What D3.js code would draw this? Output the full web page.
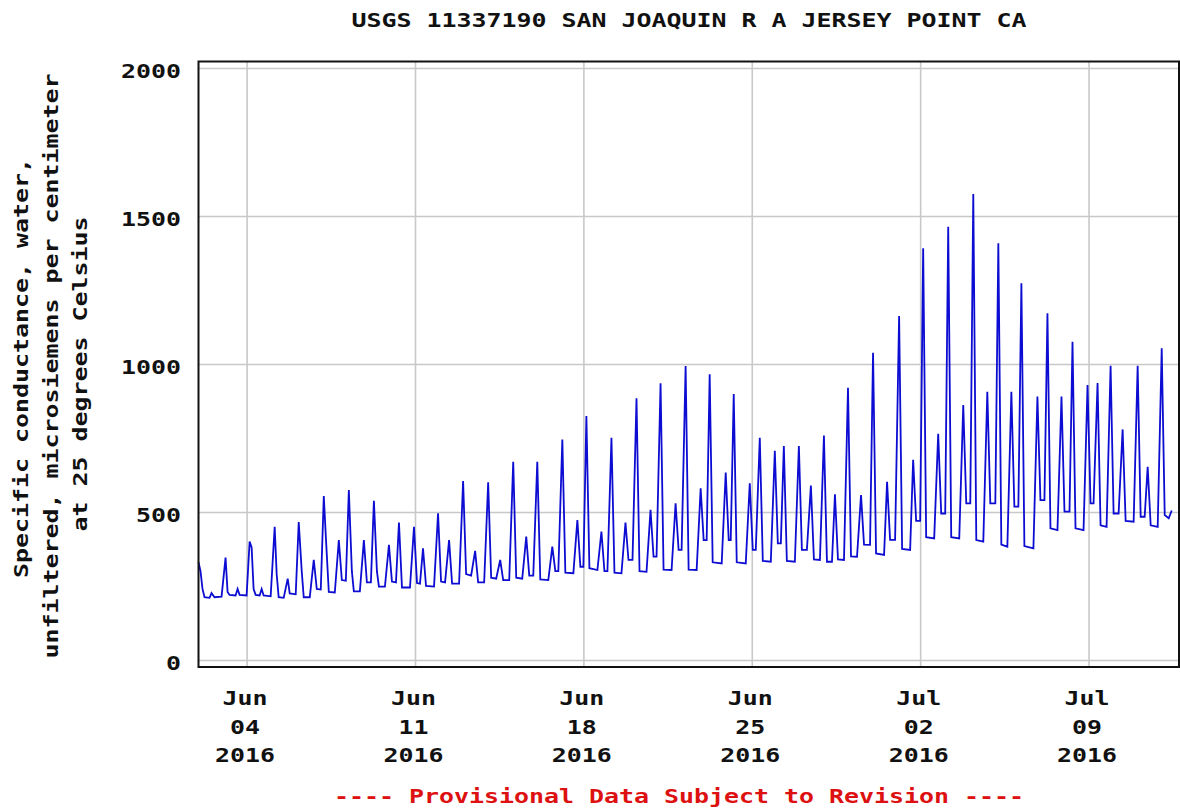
<!DOCTYPE html>
<html>
<head>
<meta charset="utf-8">
<script src="https://cdn.jsdelivr.net/npm/d3@7"></script>
<style>
  body { margin: 0; background: #fff; }
  text { font-family: "DejaVu Sans Mono", "Liberation Mono", monospace; font-weight: bold; }
</style>
</head>
<body>
<script>
// Chart text
const titleText = "USGS 11337190 SAN JOAQUIN R A JERSEY POINT CA";
const yLabelLines = [
  "Specific conductance, water,",
  "unfiltered, microsiemens per centimeter",
  "at 25 degrees Celsius",
];
const captionText = "---- Provisional Data Subject to Revision ----";

// Tick values
const yTicks = [0, 500, 1000, 1500, 2000];
const xTicks = ["2016-06-04", "2016-06-11", "2016-06-18", "2016-06-25", "2016-07-02", "2016-07-09"];

// Readings: [hours since 2016-06-02 00:00, specific conductance]
const readings = [
  [0, 330], [2, 300], [4, 240], [6, 212], [11, 210], [13, 226], [16, 212], [23, 214],
  [27, 346], [29, 230], [31, 220], [37, 218], [39, 240], [41, 220], [48, 218],
  [51, 400], [53, 380], [55, 240], [57, 220], [61, 218], [63, 240], [65, 218], [72, 215],
  [76, 450], [78, 290], [80, 212], [85, 210], [89, 275], [91, 225], [97, 222],
  [100, 466], [103, 300], [105, 212], [111, 212], [115, 338], [118, 240], [122, 238],
  [125, 554], [127, 420], [130, 230], [136, 228], [140, 405], [143, 270], [147, 268],
  [150, 574], [153, 300], [155, 232], [161, 232], [165, 405], [168, 262], [172, 262],
  [175, 538], [178, 300], [180, 248], [186, 248], [190, 389], [193, 265], [197, 262],
  [200, 464], [203, 245], [211, 245], [215, 450], [218, 260], [221, 258],
  [224, 377], [227, 250], [235, 248],
  [239, 496], [242, 265], [246, 262], [250, 405], [253, 258], [260, 258],
  [264, 605], [267, 290], [272, 285], [276, 369], [279, 262], [285, 262],
  [289, 600], [292, 278], [297, 275], [301, 338], [304, 270], [310, 270],
  [314, 670], [317, 278], [323, 275], [327, 417], [330, 285], [334, 285],
  [338, 670], [341, 272], [349, 270], [353, 383], [356, 300], [359, 300],
  [363, 745], [366, 295], [374, 293], [378, 473], [381, 315], [384, 315],
  [387, 824], [390, 310], [398, 304], [402, 434], [405, 300], [408, 300],
  [412, 751], [415, 295], [422, 293], [426, 464], [429, 338], [433, 338],
  [437, 884], [440, 300], [447, 298], [451, 507], [454, 349], [457, 349],
  [461, 935], [464, 305], [472, 304], [476, 529], [479, 372], [482, 372],
  [486, 993], [489, 305], [497, 304], [501, 580], [504, 405], [507, 405],
  [510, 965], [513, 330], [522, 326], [526, 633], [529, 405], [531, 405],
  [534, 899], [537, 330], [546, 326], [550, 597], [553, 372], [556, 372],
  [560, 751], [563, 335], [571, 332], [575, 707], [578, 394], [581, 394],
  [584, 723], [587, 335], [595, 332], [599, 723], [602, 372], [607, 372],
  [611, 589], [614, 340], [620, 338], [624, 758], [627, 332], [632, 332],
  [635, 560], [638, 340], [644, 338], [648, 920], [651, 350], [657, 349],
  [661, 557], [664, 390], [670, 389], [673, 1038], [676, 360], [684, 355],
  [687, 602], [690, 406], [695, 406], [699, 1162], [702, 375], [710, 372],
  [713, 676], [716, 470], [720, 470], [723, 1391], [726, 415], [734, 411],
  [738, 764], [741, 495], [745, 495], [748, 1464], [751, 415], [759, 411],
  [763, 861], [766, 529], [770, 529], [773, 1574], [776, 405], [783, 400],
  [787, 906], [790, 529], [795, 529], [798, 1408], [801, 390], [807, 383],
  [811, 906], [814, 518], [818, 518], [821, 1273], [824, 385], [833, 377],
  [837, 890], [840, 540], [844, 540], [847, 1171], [850, 445], [857, 439],
  [861, 890], [864, 501], [869, 501], [872, 1075], [875, 445], [883, 439],
  [887, 929], [890, 529], [893, 529], [897, 936], [900, 455], [906, 450],
  [910, 994], [913, 495], [918, 495], [922, 779], [925, 470], [933, 467],
  [937, 994], [940, 484], [944, 484], [947, 653], [950, 455], [957, 450],
  [961, 1053], [964, 490], [968, 479], [971, 505],
];

const start = new Date(2016, 5, 2, 0, 0);
const parseDay = d3.timeParse("%Y-%m-%d");
const data = readings.map(([h, v]) => ({
  date: d3.timeHour.offset(start, h),
  value: v,
}));

// Layout
const W = 1180, H = 809;
const plot = { left: 198.5, right: 1179, top: 61.5, bottom: 667 };
const charW = 15;

const svg = d3.select("body").append("svg")
  .attr("width", W)
  .attr("height", H);

// Scales
const x = d3.scaleTime()
  .domain([start, new Date(2016, 6, 12, 18, 15)])
  .range([plot.left, plot.right]);

const y = d3.scaleLinear()
  .domain([0, 2000])
  .range([660, 68]);

// Grid lines from the axes
const xGrid = svg.append("g")
  .attr("transform", `translate(0,${plot.bottom})`)
  .call(d3.axisBottom(x)
    .tickValues(xTicks.map(parseDay))
    .tickSize(-(plot.bottom - plot.top))
    .tickFormat(""));

const yGrid = svg.append("g")
  .attr("transform", `translate(${plot.left},0)`)
  .call(d3.axisLeft(y)
    .tickValues(yTicks)
    .tickSize(-(plot.right - plot.left))
    .tickFormat(""));

[xGrid, yGrid].forEach((g) => {
  g.select(".domain").remove();
  g.selectAll(".tick line").attr("stroke", "#c8c8c8").attr("stroke-width", 1.6);
});

// Data line
const line = d3.line()
  .x((d) => x(d.date))
  .y((d) => y(d.value));

svg.append("path")
  .datum(data)
  .attr("fill", "none")
  .attr("stroke", "#0c0cd2")
  .attr("stroke-width", 1.8)
  .attr("stroke-linejoin", "miter")
  .attr("d", line);

// Frame
svg.append("rect")
  .attr("x", plot.left)
  .attr("y", plot.top)
  .attr("width", plot.right - plot.left)
  .attr("height", plot.bottom - plot.top)
  .attr("fill", "none")
  .attr("stroke", "#111")
  .attr("stroke-width", 2);

// Helper for the stretched monospace text
const addText = (sel, str, attrs) => {
  const t = sel.append("text")
    .attr("font-size", 20)
    .attr("textLength", str.length * charW)
    .attr("lengthAdjust", "spacingAndGlyphs")
    .attr("fill", "#111")
    .text(str);
  Object.entries(attrs).forEach(([k, v]) => t.attr(k, v));
  return t;
};

// Title
addText(svg, titleText, { x: 689, y: 27, "text-anchor": "middle" });

// Y tick labels
yTicks.forEach((v) => {
  addText(svg, String(v), { x: 181, y: y(v) + 9.5, "text-anchor": "end" });
});

// X tick labels
const fmtMonth = d3.timeFormat("%b");
const fmtDay = d3.timeFormat("%d");
const fmtYear = d3.timeFormat("%Y");
xTicks.map(parseDay).forEach((d) => {
  const cx = x(d) - 1.5;
  [fmtMonth(d), fmtDay(d), fmtYear(d)].forEach((s, i) => {
    addText(svg, s, { x: cx, y: 705 + i * 28.5, "text-anchor": "middle" });
  });
});

// Y-axis label
const yLabelPos = [[28, 368], [58, 366], [87, 374]];
yLabelLines.forEach((s, i) => {
  const [lx, ly] = yLabelPos[i];
  addText(svg, s, {
    transform: `translate(${lx},${ly}) rotate(-90)`,
    "text-anchor": "middle",
  });
});

// Provisional data caption
addText(svg, captionText, { x: 679, y: 803, "text-anchor": "middle", fill: "#dd1111" });
</script>
</body>
</html>
